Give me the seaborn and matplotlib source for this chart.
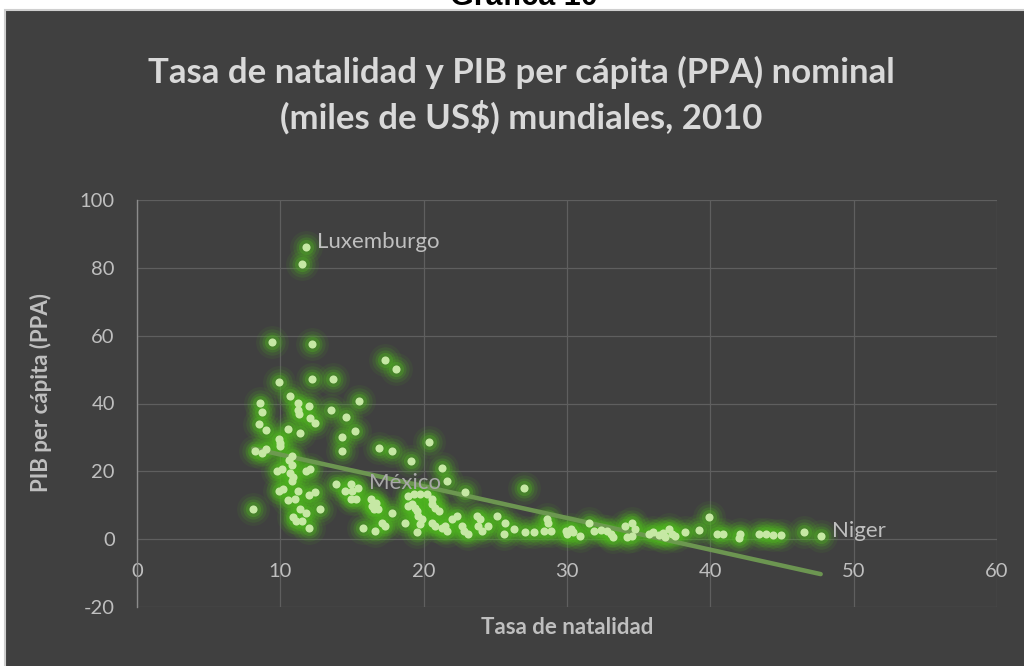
import matplotlib
matplotlib.use("Agg")
import matplotlib.pyplot as plt
import seaborn as sns
import pandas as pd
from matplotlib.patches import Rectangle

# ---------------- data ----------------
birth_rate = [
    11.8, 11.5, 9.4, 12.2, 17.3, 18.1, 9.9, 12.2, 13.7, 15.5, 10.7, 8.6, 8.7, 8.5, 9.0,
    11.2, 11.2, 11.3, 12.0, 12.1, 12.4, 13.5, 14.6, 15.2, 14.3, 10.5, 11.4, 9.9, 20.4,
    14.3, 10.0, 10.0, 8.2, 8.7, 9.0, 16.9, 17.8, 19.1, 21.3, 21.6, 22.9, 27.0,
    10.6, 10.8, 9.8, 10.1, 10.7, 10.9, 10.8, 11.8, 12.1, 10.8, 9.9, 10.2, 11.2, 12.0,
    12.4, 10.5, 11.0, 12.8, 8.1, 11.4, 11.8, 10.9, 11.1, 11.5, 12.0,
    13.9, 14.5, 14.9, 15.0, 14.9, 15.3, 16.3, 16.7, 16.5, 16.8, 16.4, 17.1, 17.3, 15.8,
    16.6, 17.8, 15.4,
    18.7, 18.9, 19.2, 19.4, 19.5, 18.9, 19.3, 19.75, 20.2, 20.6, 19.6, 19.9, 19.75, 19.5,
    20.6, 20.8, 21.1, 20.6, 20.8, 21.3, 21.6, 21.5, 22.0, 22.3, 22.7, 22.8, 23.1, 23.7,
    23.9, 23.8, 24.05, 24.5, 25.1, 25.7, 25.6, 26.3, 27.1, 27.7, 28.4, 28.6, 28.7, 28.9,
    29.9, 30.0, 30.3, 30.45, 30.9, 31.5, 31.85, 32.4, 32.8, 33.1, 33.2, 34.05, 34.5,
    34.75, 34.2, 34.5, 35.7, 36.0, 36.4, 36.7, 37.1, 37.3, 37.5, 36.85, 38.2, 39.2, 39.9,
    40.45, 40.9, 42.0, 42.1, 43.4, 43.9, 44.4, 44.9, 46.5, 47.7,
]
gdp_ppp = [
    86.0, 81.1, 58.1, 57.4, 52.8, 50.2, 46.4, 47.2, 47.2, 40.8, 42.3, 40.1, 37.5, 34.0, 32.2,
    40.2, 38.2, 36.8, 39.2, 35.8, 34.3, 38.1, 35.9, 31.9, 30.2, 32.5, 31.3, 29.6, 28.7,
    26.0, 28.4, 27.4, 26.0, 25.5, 26.5, 26.8, 26.0, 23.0, 21.1, 17.1, 13.9, 15.1,
    23.2, 24.5, 20.1, 20.6, 19.6, 18.4, 17.2, 20.1, 20.6, 21.8, 14.2, 14.9, 14.2, 13.1,
    13.9, 11.6, 11.8, 8.8, 8.8, 8.8, 7.8, 6.6, 5.4, 5.4, 3.4,
    16.2, 14.2, 16.2, 14.2, 11.8, 11.8, 11.8, 10.8, 8.8, 8.8, 9.8, 4.9, 3.9, 3.4,
    2.4, 7.8, 15.0,
    4.9, 9.8, 10.3, 9.3, 8.3, 12.7, 13.2, 13.2, 13.2, 11.8, 6.9, 5.9, 4.4, 2.0,
    10.3, 9.3, 8.3, 4.9, 3.9, 3.4, 2.4, 3.9, 5.9, 6.9, 3.9, 2.4, 1.5, 6.9,
    5.9, 3.9, 2.4, 3.9, 6.9, 4.9, 1.5, 2.9, 2.0, 2.1, 2.4, 5.9, 4.9, 2.4,
    2.4, 1.5, 2.9, 2.0, 1.0, 4.9, 2.4, 2.7, 2.4, 1.5, 0.5, 3.9, 4.9,
    2.9, 0.5, 1.0, 1.5, 2.0, 1.2, 1.8, 2.9, 1.5, 0.8, 0.5, 2.0, 2.6, 6.4,
    1.5, 1.5, 0.4, 1.5, 1.5, 1.5, 1.2, 1.2, 2.0, 0.8,
]
label_names = ["Luxemburgo", "México", "Niger"]
label_x = [11.8, 15.4, 47.7]
label_y = [86.0, 15.0, 0.8]
x_ticks = [0, 10, 20, 30, 40, 50, 60]
y_ticks = [-20, 0, 20, 40, 60, 80, 100]

df = pd.DataFrame({"natalidad": birth_rate, "pib": gdp_ppp})

# ---------------- style ----------------
sns.set_theme(style="dark")
plt.rcParams['font.family'] = ['Lato', 'DejaVu Sans']
plt.rcParams['axes.unicode_minus'] = False

BG = '#404040'
TXT = '#bfbfbf'

fig = plt.figure(figsize=(10.24, 6.66), dpi=100, facecolor='white')
fig.add_artist(Rectangle((5 / 1024, -0.01), 1.0, 1 - 10 / 666 + 0.01,
                         transform=fig.transFigure, facecolor=BG,
                         edgecolor='#cfcfcf', lw=1.5, zorder=0))

ax = fig.add_axes([137 / 1024, 1 - 607 / 666, 860 / 1024, 407 / 666])
ax.set_facecolor(BG)

# glow layers
for s, a in [(560, 0.08), (360, 0.13), (210, 0.20), (120, 0.30)]:
    sns.scatterplot(data=df, x="natalidad", y="pib", s=s, color='#4fb81f',
                    alpha=a, linewidth=0, ax=ax, legend=False, zorder=2)

# linear trend line
sns.regplot(data=df, x="natalidad", y="pib", scatter=False, ci=None,
            truncate=True, ax=ax,
            line_kws=dict(color='#6f9a52', lw=3.2, alpha=0.95, zorder=3,
                          solid_capstyle='round'))

# marker cores
sns.scatterplot(data=df, x="natalidad", y="pib", s=34, color='#c6e8a4',
                linewidth=0, ax=ax, legend=False, zorder=4)

for name, lx, ly in zip(label_names, label_x, label_y):
    ax.annotate(name, (lx, ly), xytext=(8, 4), textcoords='offset points',
                ha='left', va='center', fontsize=16,
                color='#a8a8a8' if name == "México" else TXT, zorder=5)

ax.set_xlim(0, 60)
ax.set_ylim(-20, 100)
ax.set_xticks(x_ticks)
ax.set_yticks(y_ticks)
ax.grid(True, color='#5f5f5f', lw=0.9)
for side in ['top', 'right', 'bottom']:
    ax.spines[side].set_visible(False)
ax.spines['bottom'].set_position(('data', 0))
ax.spines['left'].set_color('#8c8c8c')
ax.spines['left'].set_linewidth(1.0)
ax.tick_params(axis='both', length=0, colors=TXT, labelsize=14.5)
ax.tick_params(axis='x', pad=17)
ax.tick_params(axis='y', pad=16)

ax.set_xlabel("Tasa de natalidad", fontsize=16, fontweight='bold', color=TXT)
ax.set_ylabel("PIB per cápita (PPA)", fontsize=16, fontweight='bold', color=TXT)
ax.xaxis.set_label_coords(0.5, (607 - 628) / 407)
ax.xaxis.label.set_va('center')
ax.yaxis.set_label_coords((41 - 137) / 860, (607 - 392) / 407)
ax.yaxis.label.set_va('center')

fig.text(521 / 1024, 1 - 95 / 666,
         "Tasa de natalidad y PIB per cápita (PPA) nominal\n(miles de US$) mundiales, 2010",
         ha='center', va='center', fontsize=25, fontweight='bold', color='#d9d9d9',
         linespacing=1.4)

fig.text(524 / 1024, 1 - 5 / 666, "Gráfica 10", ha='center', va='baseline',
         fontsize=22, fontweight='bold', color='black',
         family=['Liberation Sans', 'DejaVu Sans'], zorder=-1)

fig.savefig("out.png", dpi=100, facecolor='white')
